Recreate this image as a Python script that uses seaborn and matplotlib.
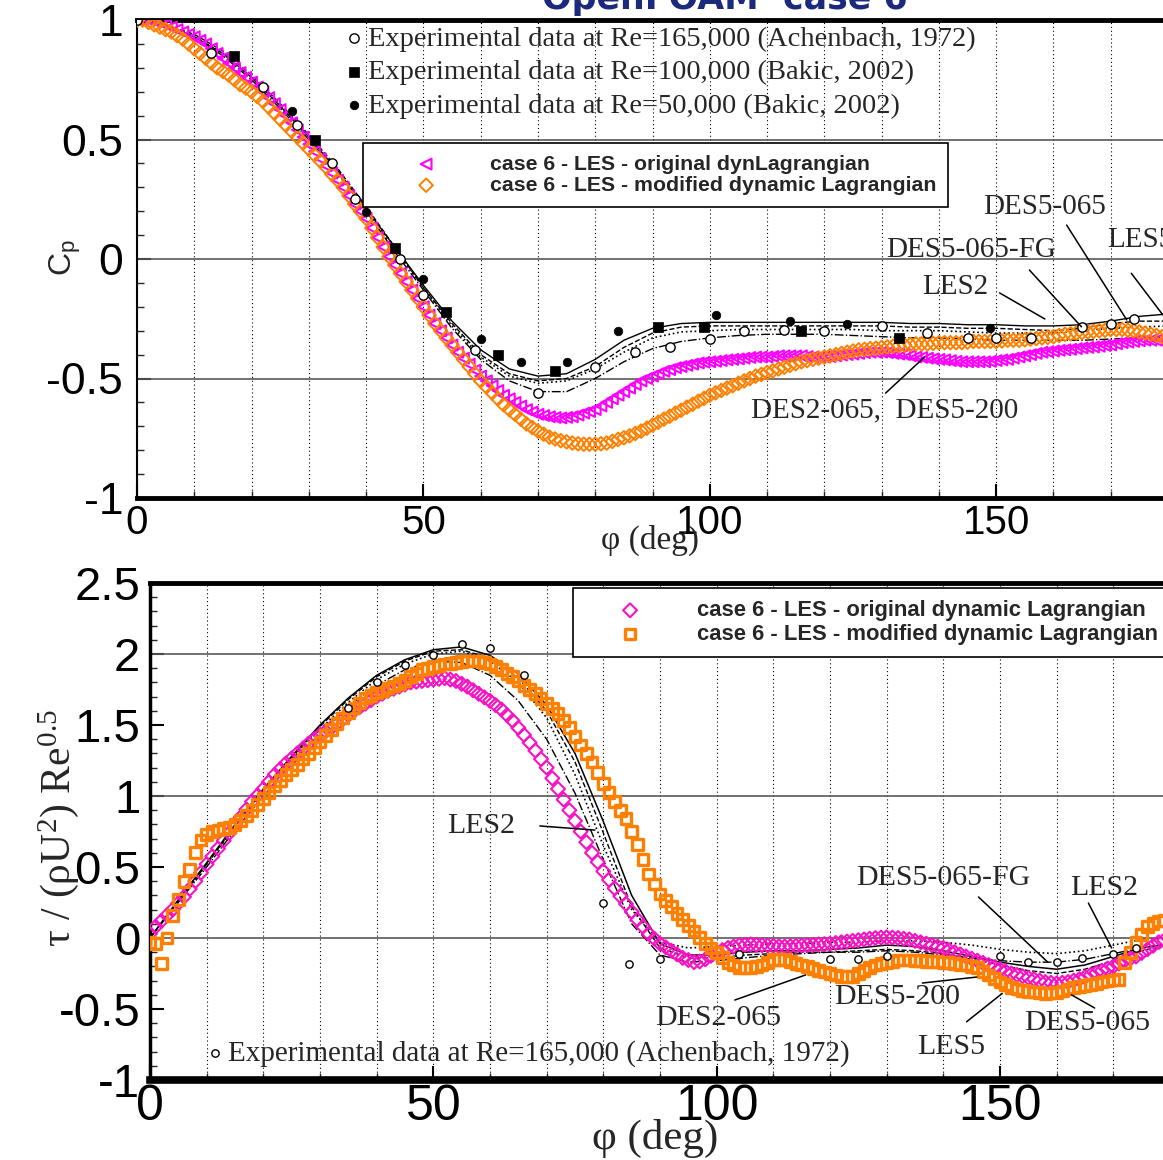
import numpy as np
import pandas as pd
import matplotlib
matplotlib.use("Agg")
import matplotlib.pyplot as plt
import seaborn as sns
from matplotlib.ticker import MultipleLocator, FuncFormatter

# ---------------- data: top panel (pressure coefficient) ----------------
phi_m = list(range(0, 181, 1))   # marker series (LES case 6), one value per degree
phi_l = list(range(0, 181, 5))   # reference line series

cp_orig = [1.00, 1.00, 1.00, 0.995, 0.99, 0.98, 0.97, 0.96, 0.95, 0.94,
           0.93, 0.915, 0.90, 0.88, 0.86, 0.84, 0.82, 0.80, 0.78, 0.76,
           0.74, 0.72, 0.70, 0.675, 0.65, 0.625, 0.60, 0.57, 0.54, 0.51,
           0.48, 0.45, 0.42, 0.39, 0.36, 0.33, 0.30, 0.265, 0.23, 0.20,
           0.17, 0.13, 0.09, 0.05, 0.01, -0.025, -0.06, -0.095, -0.13, -0.165,
           -0.20, -0.235, -0.27, -0.30, -0.33, -0.36, -0.39, -0.415, -0.44, -0.465,
           -0.49, -0.51, -0.53, -0.55, -0.57, -0.585, -0.60, -0.615, -0.63, -0.64,
           -0.65, -0.655, -0.66, -0.663, -0.665, -0.663, -0.66, -0.653, -0.645, -0.638,
           -0.63, -0.615, -0.60, -0.585, -0.57, -0.555, -0.54, -0.525, -0.51, -0.50,
           -0.49, -0.48, -0.47, -0.463, -0.455, -0.45, -0.445, -0.44, -0.435, -0.432,
           -0.43, -0.428, -0.425, -0.422, -0.42, -0.418, -0.415, -0.412, -0.41, -0.41,
           -0.41, -0.408, -0.405, -0.405, -0.405, -0.405, -0.405, -0.408, -0.41, -0.41,
           -0.41, -0.408, -0.405, -0.402, -0.40, -0.398, -0.395, -0.392, -0.39, -0.39,
           -0.39, -0.392, -0.395, -0.398, -0.40, -0.405, -0.41, -0.412, -0.415, -0.418,
           -0.42, -0.422, -0.425, -0.428, -0.43, -0.43, -0.43, -0.43, -0.43, -0.428,
           -0.425, -0.422, -0.42, -0.415, -0.41, -0.405, -0.40, -0.395, -0.39, -0.388,
           -0.385, -0.382, -0.38, -0.378, -0.375, -0.372, -0.37, -0.368, -0.365, -0.362,
           -0.36, -0.355, -0.35, -0.348, -0.345, -0.342, -0.34, -0.34, -0.34, -0.34,
           -0.34]
cp_mod = [1.00, 1.00, 0.99, 0.98, 0.97, 0.96, 0.95, 0.935, 0.92, 0.90,
          0.88, 0.86, 0.84, 0.82, 0.80, 0.785, 0.77, 0.75, 0.73, 0.715,
          0.70, 0.68, 0.66, 0.635, 0.61, 0.585, 0.56, 0.535, 0.51, 0.485,
          0.46, 0.435, 0.41, 0.385, 0.355, 0.33, 0.30, 0.265, 0.23, 0.20,
          0.17, 0.13, 0.09, 0.05, 0.01, -0.025, -0.06, -0.095, -0.13, -0.165,
          -0.20, -0.235, -0.27, -0.30, -0.33, -0.36, -0.39, -0.42, -0.45, -0.48,
          -0.51, -0.535, -0.56, -0.585, -0.61, -0.63, -0.65, -0.67, -0.69, -0.705,
          -0.72, -0.733, -0.745, -0.753, -0.76, -0.765, -0.77, -0.773, -0.775, -0.775,
          -0.775, -0.773, -0.77, -0.763, -0.755, -0.748, -0.74, -0.73, -0.72, -0.708,
          -0.695, -0.683, -0.67, -0.658, -0.645, -0.633, -0.62, -0.608, -0.595, -0.583,
          -0.57, -0.56, -0.55, -0.54, -0.53, -0.52, -0.51, -0.50, -0.49, -0.483,
          -0.475, -0.468, -0.46, -0.453, -0.445, -0.438, -0.43, -0.425, -0.42, -0.415,
          -0.41, -0.405, -0.40, -0.395, -0.39, -0.385, -0.38, -0.378, -0.375, -0.373,
          -0.37, -0.368, -0.365, -0.363, -0.36, -0.358, -0.355, -0.355, -0.355, -0.353,
          -0.35, -0.35, -0.35, -0.35, -0.35, -0.348, -0.345, -0.345, -0.345, -0.345,
          -0.345, -0.343, -0.34, -0.34, -0.34, -0.338, -0.335, -0.333, -0.33, -0.328,
          -0.325, -0.32, -0.315, -0.313, -0.31, -0.308, -0.305, -0.303, -0.30, -0.298,
          -0.295, -0.295, -0.295, -0.298, -0.30, -0.305, -0.31, -0.315, -0.32, -0.325,
          -0.33]

cp_les2 = [1.00, 0.98, 0.93, 0.86, 0.76, 0.64, 0.51, 0.37, 0.21, 0.05,
           -0.11, -0.26, -0.38, -0.46, -0.49, -0.48, -0.42, -0.34, -0.29, -0.27,
           -0.265, -0.265, -0.265, -0.265, -0.265, -0.265, -0.265, -0.27, -0.27, -0.275,
           -0.275, -0.28, -0.28, -0.275, -0.26, -0.24, -0.23]
cp_des5_065 = [1.00, 0.98, 0.94, 0.87, 0.77, 0.65, 0.52, 0.38, 0.22, 0.05,
               -0.12, -0.27, -0.40, -0.48, -0.51, -0.50, -0.45, -0.37, -0.31, -0.285,
               -0.28, -0.28, -0.28, -0.28, -0.28, -0.28, -0.28, -0.285, -0.285, -0.29,
               -0.29, -0.295, -0.30, -0.29, -0.27, -0.26, -0.26]
cp_des2_065 = [1.00, 0.98, 0.93, 0.85, 0.75, 0.63, 0.50, 0.36, 0.20, 0.03,
               -0.13, -0.29, -0.42, -0.51, -0.555, -0.555, -0.50, -0.43, -0.375, -0.345,
               -0.33, -0.32, -0.315, -0.315, -0.315, -0.32, -0.325, -0.33, -0.33, -0.335,
               -0.34, -0.34, -0.34, -0.34, -0.335, -0.33, -0.33]
cp_des5_fg = [1.00, 0.98, 0.93, 0.86, 0.76, 0.64, 0.51, 0.37, 0.21, 0.04,
              -0.12, -0.28, -0.41, -0.49, -0.52, -0.51, -0.46, -0.39, -0.33, -0.305,
              -0.30, -0.295, -0.295, -0.295, -0.295, -0.295, -0.30, -0.30, -0.30, -0.305,
              -0.31, -0.31, -0.31, -0.30, -0.29, -0.285, -0.28]

ach_phi = [0, 13, 22, 28, 34, 38, 46, 50, 59, 70, 80, 87, 93, 100, 106, 113,
           120, 130, 138, 145, 150, 156, 165, 170, 174]
ach_cp = [1.0, 0.86, 0.72, 0.56, 0.40, 0.25, 0.0, -0.15, -0.38, -0.56, -0.45,
          -0.39, -0.37, -0.335, -0.30, -0.295, -0.30, -0.28, -0.31, -0.33, -0.33,
          -0.33, -0.285, -0.27, -0.25]
bak100_phi = [17, 31, 45, 54, 63, 73, 91, 99, 116, 133]
bak100_cp = [0.85, 0.50, 0.045, -0.22, -0.40, -0.47, -0.285, -0.285, -0.30, -0.33]
bak50_phi = [27, 40, 50, 60, 67, 75, 84, 101, 114, 124, 149]
bak50_cp = [0.62, 0.195, -0.085, -0.335, -0.43, -0.43, -0.30, -0.235, -0.26, -0.27, -0.29]

# ---------------- data: bottom panel (wall shear stress) ----------------
tau_orig = [0.03, 0.08, 0.12, 0.16, 0.20, 0.245, 0.29, 0.345, 0.40, 0.46,
            0.52, 0.575, 0.63, 0.685, 0.74, 0.795, 0.85, 0.905, 0.96, 1.005,
            1.05, 1.10, 1.15, 1.19, 1.23, 1.265, 1.30, 1.335, 1.37, 1.40,
            1.43, 1.455, 1.48, 1.51, 1.54, 1.57, 1.60, 1.625, 1.65, 1.675,
            1.70, 1.72, 1.74, 1.755, 1.77, 1.785, 1.80, 1.805, 1.81, 1.815,
            1.82, 1.825, 1.83, 1.82, 1.81, 1.79, 1.77, 1.745, 1.72, 1.695,
            1.67, 1.64, 1.61, 1.57, 1.53, 1.48, 1.43, 1.375, 1.32, 1.26,
            1.20, 1.125, 1.05, 0.975, 0.90, 0.825, 0.75, 0.675, 0.60, 0.535,
            0.47, 0.41, 0.35, 0.295, 0.24, 0.185, 0.13, 0.08, 0.03, -0.005,
            -0.04, -0.065, -0.09, -0.115, -0.14, -0.155, -0.17, -0.165, -0.15, -0.125,
            -0.10, -0.085, -0.07, -0.06, -0.05, -0.048, -0.045, -0.048, -0.05, -0.053,
            -0.055, -0.058, -0.06, -0.058, -0.055, -0.053, -0.05, -0.048, -0.045, -0.043,
            -0.04, -0.035, -0.03, -0.025, -0.02, -0.015, -0.01, -0.005, 0.00, 0.003,
            0.005, 0.003, 0.00, -0.005, -0.01, -0.02, -0.03, -0.04, -0.05, -0.06,
            -0.07, -0.085, -0.10, -0.115, -0.13, -0.145, -0.16, -0.175, -0.19, -0.205,
            -0.22, -0.235, -0.25, -0.26, -0.27, -0.28, -0.29, -0.30, -0.31, -0.315,
            -0.32, -0.315, -0.31, -0.30, -0.29, -0.275, -0.26, -0.245, -0.23, -0.215,
            -0.20, -0.18, -0.16, -0.145, -0.13, -0.105, -0.08, -0.055, -0.03, -0.015,
            0.00]
tau_mod = [-0.03, -0.04, -0.18, 0.00, 0.16, 0.27, 0.40, 0.48, 0.60, 0.69,
           0.73, 0.75, 0.76, 0.77, 0.78, 0.80, 0.83, 0.865, 0.90, 0.94,
           0.98, 1.025, 1.07, 1.11, 1.15, 1.185, 1.22, 1.26, 1.30, 1.34,
           1.38, 1.425, 1.47, 1.51, 1.55, 1.585, 1.62, 1.655, 1.69, 1.71,
           1.73, 1.745, 1.76, 1.775, 1.79, 1.815, 1.84, 1.865, 1.89, 1.90,
           1.91, 1.92, 1.93, 1.935, 1.94, 1.945, 1.95, 1.95, 1.95, 1.94,
           1.93, 1.91, 1.89, 1.865, 1.84, 1.81, 1.78, 1.75, 1.72, 1.685,
           1.65, 1.615, 1.58, 1.53, 1.48, 1.42, 1.36, 1.30, 1.24, 1.165,
           1.09, 1.025, 0.96, 0.90, 0.84, 0.75, 0.66, 0.555, 0.45, 0.38,
           0.31, 0.265, 0.22, 0.175, 0.13, 0.09, 0.05, 0.005, -0.04, -0.07,
           -0.10, -0.135, -0.17, -0.19, -0.21, -0.21, -0.21, -0.20, -0.19, -0.17,
           -0.15, -0.15, -0.15, -0.165, -0.18, -0.19, -0.20, -0.215, -0.23, -0.24,
           -0.25, -0.26, -0.27, -0.27, -0.27, -0.25, -0.23, -0.21, -0.19, -0.18,
           -0.17, -0.163, -0.155, -0.155, -0.155, -0.158, -0.16, -0.163, -0.165, -0.168,
           -0.17, -0.175, -0.18, -0.185, -0.19, -0.20, -0.21, -0.235, -0.26, -0.285,
           -0.31, -0.33, -0.35, -0.36, -0.37, -0.375, -0.38, -0.385, -0.39, -0.388,
           -0.385, -0.373, -0.36, -0.35, -0.34, -0.333, -0.325, -0.318, -0.31, -0.303,
           -0.295, -0.29, -0.17, -0.10, -0.03, 0.025, 0.08, 0.10, 0.12, 0.125,
           0.13]

tau_les5 = [0.00, 0.27, 0.53, 0.80, 1.05, 1.28, 1.50, 1.69, 1.85, 1.96,
            2.03, 2.05, 1.99, 1.86, 1.64, 1.30, 0.82, 0.30, -0.04, -0.12,
            -0.12, -0.10, -0.09, -0.09, -0.08, -0.07, -0.05, -0.06, -0.09, -0.13,
            -0.17, -0.20, -0.22, -0.19, -0.13, -0.07, -0.04]
tau_des5_065 = [0.00, 0.26, 0.52, 0.79, 1.04, 1.27, 1.49, 1.68, 1.84, 1.95,
                2.02, 2.03, 1.97, 1.83, 1.60, 1.24, 0.74, 0.22, -0.07, -0.14,
                -0.14, -0.12, -0.11, -0.10, -0.10, -0.09, -0.08, -0.09, -0.11, -0.15,
                -0.19, -0.23, -0.25, -0.22, -0.16, -0.09, -0.05]
tau_des2_065 = [0.00, 0.25, 0.50, 0.76, 1.00, 1.23, 1.44, 1.63, 1.78, 1.89,
                1.95, 1.94, 1.85, 1.67, 1.40, 1.02, 0.55, 0.10, -0.12, -0.17,
                -0.16, -0.14, -0.12, -0.11, -0.10, -0.10, -0.09, -0.10, -0.12, -0.14,
                -0.16, -0.17, -0.17, -0.15, -0.11, -0.07, -0.04]
tau_les2 = [0.00, 0.26, 0.52, 0.78, 1.03, 1.26, 1.47, 1.66, 1.82, 1.93,
            2.00, 2.02, 1.95, 1.80, 1.55, 1.15, 0.65, 0.20, -0.03, -0.07,
            -0.06, -0.05, -0.04, -0.04, -0.03, -0.03, -0.02, -0.02, -0.03, -0.05,
            -0.08, -0.10, -0.11, -0.09, -0.05, -0.01, 0.00]

ach2_phi = [35, 40, 45, 50, 55, 60, 66, 80, 84.5, 90, 104, 120, 125, 130,
            150, 155, 160, 164.5, 170, 174]
ach2_tau = [1.62, 1.80, 1.92, 1.99, 2.07, 2.04, 1.85, 0.25, -0.18, -0.15, -0.11,
            -0.15, -0.15, -0.13, -0.13, -0.17, -0.17, -0.14, -0.11, -0.07]

top_yticks = [-1, -0.5, 0, 0.5, 1]
bot_yticks = [-1, -0.5, 0, 0.5, 1, 1.5, 2, 2.5]
xticks = [0, 50, 100, 150]

lab_ach = "Experimental data at Re=165,000 (Achenbach, 1972)"
lab_b100 = "Experimental data at Re=100,000 (Bakic, 2002)"
lab_b50 = "Experimental data at Re=50,000 (Bakic, 2002)"
lab_top_orig = "case 6 - LES - original dynLagrangian"
lab_top_mod = "case 6 - LES - modified dynamic Lagrangian"
lab_bot_orig = "case 6 - LES - original dynamic Lagrangian"
lab_bot_mod = "case 6 - LES - modified dynamic Lagrangian"

# ---------------- styling ----------------
sns.set_style("ticks")
plt.rcParams['font.family'] = ['Liberation Sans', 'DejaVu Sans']
plt.rcParams['axes.unicode_minus'] = False
plt.rcParams['mathtext.fontset'] = 'custom'
plt.rcParams['mathtext.rm'] = 'Liberation Serif'
plt.rcParams['mathtext.it'] = 'Liberation Serif:italic'
plt.rcParams['mathtext.sf'] = 'Liberation Sans'

W, H = 1163, 1160
fig = plt.figure(figsize=(W / 100, H / 100), dpi=100)
fig.patch.set_facecolor('white')

ax1 = fig.add_axes([137 / W, 1 - 498 / H, 1031 / W, 478 / H])
ax2 = fig.add_axes([150 / W, 1 - 1080 / H, 1020 / W, 497 / H])

MAG = '#ff00ff'
MAG2 = '#f812c4'
ORG = '#ff8000'
SERIF = 'Liberation Serif'

fmt = FuncFormatter(lambda v, p: ('%g' % v))

def style_axes(ax, ylim, yticks, ymaj_lines, xfs, yfs, xpad, ypad, spw):
    ax.set_xlim(0, 180)
    ax.set_ylim(*ylim)
    ax.set_xticks(xticks)
    ax.set_yticks(yticks)
    ax.xaxis.set_minor_locator(MultipleLocator(10))
    ax.yaxis.set_minor_locator(MultipleLocator(0.1))
    ax.yaxis.set_major_formatter(fmt)
    ax.xaxis.set_major_formatter(fmt)
    ax.grid(False)
    ax.grid(axis='x', which='both', color='k', ls=(0, (1, 2.5)), lw=0.8, zorder=0)
    for v in ymaj_lines:
        ax.axhline(v, color='0.35', lw=1.2, zorder=1)
    ax.tick_params(axis='both', which='major', direction='in', length=10, width=1.5,
                   top=False, right=False, colors='k')
    ax.tick_params(axis='both', which='minor', direction='in', length=5, width=1.0,
                   top=False, right=False)
    ax.tick_params(axis='x', which='major', labelsize=xfs, pad=xpad)
    ax.tick_params(axis='y', which='major', labelsize=yfs, pad=ypad)
    ax.spines['right'].set_visible(False)
    ax.spines['top'].set_linewidth(spw[0])
    ax.spines['bottom'].set_linewidth(spw[1])
    ax.spines['left'].set_linewidth(spw[2])
    for s in ax.spines.values():
        s.set_color('k')
    ax.set_facecolor('white')

# ---------------- top panel ----------------
style_axes(ax1, (-1, 1), top_yticks, [0.5, 0, -0.5], 29, 32, 4, 10, (3.5, 3.5, 1.5))

line_specs_top = [(cp_les2, '-', 1.0), (cp_des5_065, '--', 1.0),
                  (cp_des2_065, '-.', 1.0), (cp_des5_fg, ':', 1.2)]
for vals, ls, lw in line_specs_top:
    sns.lineplot(x=phi_l, y=vals, ax=ax1, color='k', lw=lw, linestyle=ls,
                 estimator=None, sort=False, zorder=3)

sns.scatterplot(x=phi_m, y=cp_orig, ax=ax1, marker='<', s=60, facecolors='none',
                edgecolor=MAG, linewidth=1.5, zorder=4)
h_top_orig = ax1.collections[-1]
sns.scatterplot(x=phi_m, y=cp_mod, ax=ax1, marker='D', s=48, facecolors='none',
                edgecolor=ORG, linewidth=1.4, zorder=5)
h_top_mod = ax1.collections[-1]

sns.scatterplot(x=ach_phi, y=ach_cp, ax=ax1, marker='o', s=45, facecolors='white',
                edgecolor='k', linewidth=1.0, zorder=6)
h_ach = ax1.collections[-1]
sns.scatterplot(x=bak100_phi, y=bak100_cp, ax=ax1, marker='s', s=60, color='k',
                edgecolor='k', linewidth=0.5, zorder=6)
h_b100 = ax1.collections[-1]
sns.scatterplot(x=bak50_phi, y=bak50_cp, ax=ax1, marker='o', s=38, color='k',
                edgecolor='k', linewidth=0.5, zorder=6)
h_b50 = ax1.collections[-1]

ax1.set_ylabel(r"C$_\mathsf{p}$", fontsize=23, family='Liberation Sans')
ax1.yaxis.set_label_coords(-0.052, 0.502)
ax1.set_xlabel("φ (deg)", fontsize=24, family=SERIF)
ax1.xaxis.set_label_coords(0.4976, -0.055)

ann_kw = dict(fontsize=21, family=SERIF, ha='center', va='center', zorder=8)
line_kw = dict(arrowstyle='-', lw=1.1, color='k', shrinkA=0, shrinkB=0)
top_ann = [("DES5-065", (158.5, 0.218), (162.3, 0.142), (172.8, -0.255)),
           ("DES5-065-FG", (145.7, 0.038), (155.8, -0.046), (164.9, -0.284)),
           ("LES2", (142.8, -0.117), (150.6, -0.142), (158.5, -0.251)),
           ("DES2-065,  DES5-200", (130.5, -0.632), (130.7, -0.561), (137.5, -0.41))]
for txt, tpos, p0, p1 in top_ann:
    ax1.text(tpos[0], tpos[1], txt, **ann_kw)
    ax1.annotate('', xy=p1, xytext=p0, arrowprops=line_kw, zorder=8)
ax1.text(169.3, 0.080, "LES5", fontsize=21, family=SERIF, ha='left', va='center',
         zorder=8, clip_on=False)
ax1.annotate('', xy=(179.1, -0.234), xytext=(173.6, -0.06), arrowprops=line_kw)

# legends (top)
leg1 = fig.legend(handles=[h_ach, h_b100, h_b50], labels=[lab_ach, lab_b100, lab_b50],
                  loc='upper left', bbox_to_anchor=(347 / W, 1 - 26 / H),
                  bbox_transform=fig.transFigure, frameon=False,
                  prop={'family': SERIF, 'size': 20.5}, handlelength=0.5,
                  handletextpad=0.22, labelspacing=0.26, borderpad=0, borderaxespad=0,
                  scatterpoints=1)
leg2 = fig.legend(handles=[h_top_orig, h_top_mod], labels=[lab_top_orig, lab_top_mod],
                  loc='upper left', bbox_to_anchor=(363 / W, 1 - 143 / H),
                  bbox_transform=fig.transFigure, frameon=True, fancybox=False,
                  edgecolor='k', framealpha=1, facecolor='white',
                  prop={'family': 'Liberation Sans', 'weight': 'bold', 'size': 15.3},
                  handlelength=4.84, handletextpad=0.6, labelspacing=0.1,
                  borderpad=0.55, borderaxespad=0, scatterpoints=1)
leg2.get_frame().set_linewidth(1.2)

# ---------------- bottom panel ----------------
style_axes(ax2, (-1, 2.5), bot_yticks, [2, 1, 0], 36, 34, 3, 7, (3.5, 5.5, 2.5))

line_specs_bot = [(tau_les5, '-', 1.1), (tau_des5_065, '--', 1.0),
                  (tau_des2_065, '-.', 1.0), (tau_les2, ':', 1.2)]
for vals, ls, lw in line_specs_bot:
    sns.lineplot(x=phi_l, y=vals, ax=ax2, color='k', lw=lw, linestyle=ls,
                 estimator=None, sort=False, zorder=3)

sns.scatterplot(x=phi_m, y=tau_orig, ax=ax2, marker='D', s=50, facecolors='none',
                edgecolor=MAG2, linewidth=1.5, zorder=4)
h_bot_orig = ax2.collections[-1]
sns.scatterplot(x=phi_m, y=tau_mod, ax=ax2, marker='s', s=60, facecolors='none',
                edgecolor=ORG, linewidth=2.4, zorder=5)
h_bot_mod = ax2.collections[-1]
sns.scatterplot(x=ach2_phi, y=ach2_tau, ax=ax2, marker='o', s=28, facecolors='white',
                edgecolor='k', linewidth=1.0, zorder=6)
h_ach2 = ax2.collections[-1]

ax2.set_ylabel("τ / (ρU$^2$) Re$^{0.5}$", fontsize=30, family=SERIF)
ax2.yaxis.set_label_coords(-0.068, 0.507)
ax2.set_xlabel("φ (deg)", fontsize=31, family=SERIF)
ax2.xaxis.set_label_coords(0.495, -0.078)

bot_ann = [("LES2", (58.4, 0.789), (68.8, 0.789), (78.5, 0.76)),
           ("DES5-065-FG", (140.0, 0.423), (146.2, 0.289), (158.4, -0.169)),
           ("LES2", (168.3, 0.352), (165.6, 0.246), (169.7, -0.07)),
           ("DES5-200", (131.9, -0.415), (136.3, -0.317), (145.9, -0.275)),
           ("DES2-065", (100.2, -0.563), (103.2, -0.437), (115.7, -0.26)),
           ("LES5", (141.4, -0.768), (144.1, -0.59), (150.4, -0.39)),
           ("DES5-065", (165.4, -0.599), (166.7, -0.493), (162.6, -0.40))]
ann_kw2 = dict(ann_kw)
ann_kw2['fontsize'] = 21.5
for txt, tpos, p0, p1 in bot_ann:
    ax2.text(tpos[0], tpos[1], txt, **ann_kw2)
    ax2.annotate('', xy=p1, xytext=p0, arrowprops=line_kw, zorder=8)

leg3 = fig.legend(handles=[h_bot_orig, h_bot_mod], labels=[lab_bot_orig, lab_bot_mod],
                  loc='upper left', bbox_to_anchor=(573 / W, 1 - 588 / H),
                  bbox_transform=fig.transFigure, frameon=True, fancybox=False,
                  edgecolor='k', framealpha=1, facecolor='white',
                  prop={'family': 'Liberation Sans', 'weight': 'bold', 'size': 15.8},
                  handlelength=4.1, handletextpad=1.0, labelspacing=0.12,
                  borderpad=0.55, borderaxespad=0, scatterpoints=1)
leg3.get_frame().set_linewidth(1.2)
leg4 = fig.legend(handles=[h_ach2], labels=[lab_ach],
                  loc='upper left', bbox_to_anchor=(208 / W, 1 - 1040 / H),
                  bbox_transform=fig.transFigure, frameon=False,
                  prop={'family': SERIF, 'size': 21}, handlelength=0.5,
                  handletextpad=0.2, borderpad=0, borderaxespad=0, scatterpoints=1)

# partially visible slide title at the very top
fig.text(725 / W, 1 - 9 / H, "OpenFOAM  case 6", ha='center', va='baseline',
         fontsize=25, fontweight='bold', color='#1c2a7e', family='DejaVu Sans')

fig.savefig("out.png", dpi=100, facecolor='white')
